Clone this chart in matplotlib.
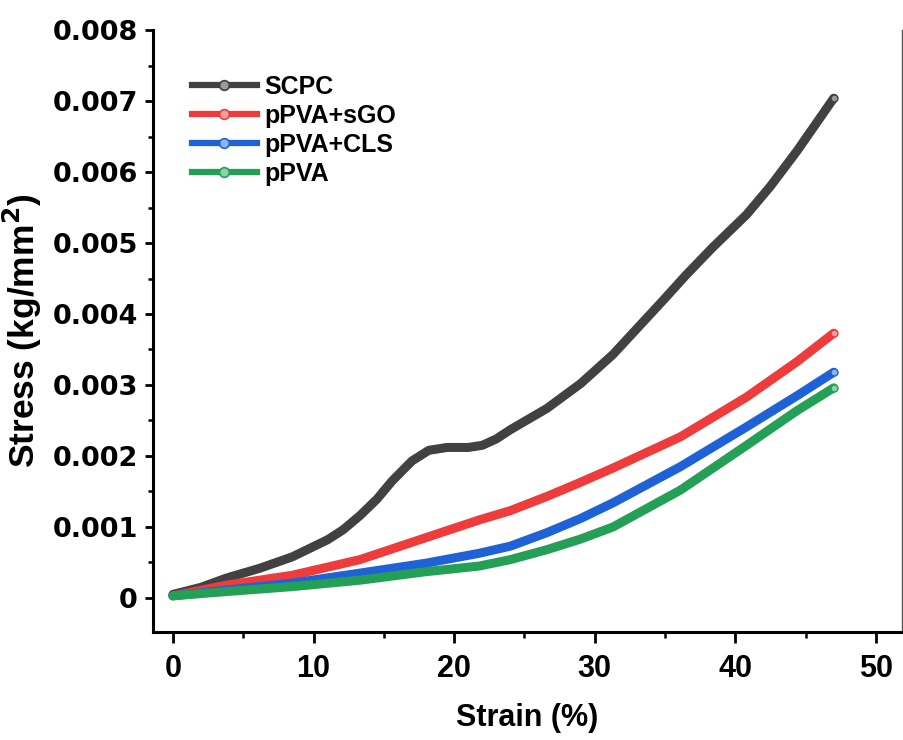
import matplotlib
matplotlib.use("Agg")
import matplotlib.pyplot as plt
from matplotlib.lines import Line2D
from matplotlib.ticker import MultipleLocator, FuncFormatter

# ---- data ----
series_names = ["SCPC", "pPVA+sGO", "pPVA+CLS", "pPVA"]
series_colors = ["#414141", "#ee3b3b", "#1f62d8", "#23a055"]
marker_faces = ["#9a9a9a", "#f8a0a0", "#8fb4f0", "#8fd0a8"]

strain_scpc = [0, 2, 3.8, 6.2, 8.5, 11.0, 12.1, 13.3, 14.5, 15.6, 17.0, 18.2, 19.5, 21.0, 22.0,
               23.0, 24.0, 26.6, 29.0, 31.3, 34.9, 36.5, 38.4, 40.8, 42.5, 44.4, 47.0]
stress_scpc = [0.00005, 0.00015, 0.00028, 0.00042, 0.00058, 0.00082, 0.00096, 0.00116, 0.00139,
               0.00165, 0.00193, 0.00208, 0.00212, 0.00212, 0.00215, 0.00224, 0.00237, 0.00267,
               0.00302, 0.00343, 0.0042, 0.00455, 0.00494, 0.0054, 0.0058, 0.0063, 0.00704]

strain_pva = [0, 3.8, 8.5, 13.3, 18.0, 21.8, 24.0, 26.6, 29.0, 31.3, 36.1, 40.8, 44.4, 47.0]
stress_sgo = [0.00003, 0.00018, 0.00032, 0.00054, 0.00085, 0.0011, 0.00123, 0.00143, 0.00163,
              0.00183, 0.00227, 0.00283, 0.00333, 0.00373]
stress_cls = [0.00003, 0.00011, 0.00021, 0.00035, 0.00049, 0.00063, 0.00073, 0.00092, 0.00112,
              0.00134, 0.00185, 0.00241, 0.00285, 0.00318]
stress_ppva = [0.00003, 0.00009, 0.00016, 0.00025, 0.00037, 0.00045, 0.00054, 0.00068, 0.00083,
               0.001, 0.00152, 0.00215, 0.00264, 0.00296]

x_data = [strain_scpc, strain_pva, strain_pva, strain_pva]
y_data = [stress_scpc, stress_sgo, stress_cls, stress_ppva]

x_ticks = [0, 10, 20, 30, 40, 50]
y_ticks = [0, 0.001, 0.002, 0.003, 0.004, 0.005, 0.006, 0.007, 0.008]

# ---- figure ----
fig = plt.figure(figsize=(9.04, 7.40), dpi=100)
ax = fig.add_axes([0.1692, 0.1459, 0.8285, 0.8135])

for xs, ys, c, mf in zip(x_data, y_data, series_colors, marker_faces):
    ax.plot(xs, ys, color=c, lw=6.5, solid_capstyle="round", solid_joinstyle="round",
            marker="o", markevery=[len(xs) - 1], markersize=5,
            markerfacecolor=mf, markeredgecolor=c, markeredgewidth=1)

ax.set_xlim(-1.42, 51.85)
ax.set_ylim(-0.00048, 0.008)

ax.xaxis.set_minor_locator(MultipleLocator(5))
ax.yaxis.set_minor_locator(MultipleLocator(0.0005))
ax.set_xticks(x_ticks)
ax.set_yticks(y_ticks)
ax.yaxis.set_major_formatter(FuncFormatter(lambda v, p: "0" if abs(v) < 1e-12 else f"{v:.3f}"))

ax.tick_params(axis="x", which="major", direction="out", length=8, width=2, pad=8)
ax.tick_params(axis="y", which="major", direction="out", length=6, width=2, pad=5)
ax.tick_params(axis="x", which="minor", direction="out", length=4.5, width=1.8)
ax.tick_params(axis="y", which="minor", direction="out", length=3.5, width=1.8)

for lab in ax.get_yticklabels():
    lab.set_fontfamily(["DejaVu Sans"])
    lab.set_fontweight("bold")
    lab.set_fontsize(19.5)
for lab in ax.get_xticklabels():
    lab.set_fontfamily(["Liberation Sans Narrow", "Liberation Sans"])
    lab.set_fontweight("bold")
    lab.set_fontsize(22)

ax.spines["top"].set_visible(False)
ax.spines["left"].set_linewidth(2.2)
ax.spines["bottom"].set_linewidth(2.2)
ax.spines["right"].set_linewidth(1.0)
ax.spines["right"].set_color("#555555")

ax.set_xlabel("Strain (%)", fontfamily=["Liberation Sans"], fontweight="bold", fontsize=22)
ax.set_ylabel("Stress (kg/mm$^\\mathbf{2}$)", fontfamily=["Liberation Sans"], fontweight="bold", fontsize=25.5)
ax.yaxis.set_label_coords(-0.146, 0.5)
ax.xaxis.set_label_coords(0.5, -0.118)

handles = [Line2D([0], [0], color=c, lw=4.5, marker="o", markersize=7,
                  markerfacecolor=mf, markeredgecolor=c, markeredgewidth=1.2)
           for c, mf in zip(series_colors, marker_faces)]
leg = ax.legend(handles, series_names, loc="upper left", bbox_to_anchor=(0.052, 0.926),
                frameon=False, borderpad=0, borderaxespad=0, handlelength=2.6,
                handletextpad=0.3, labelspacing=0.2,
                prop={"family": ["Liberation Sans"], "weight": "bold", "size": 18})

fig.savefig("out.png", dpi=100, facecolor="white")
